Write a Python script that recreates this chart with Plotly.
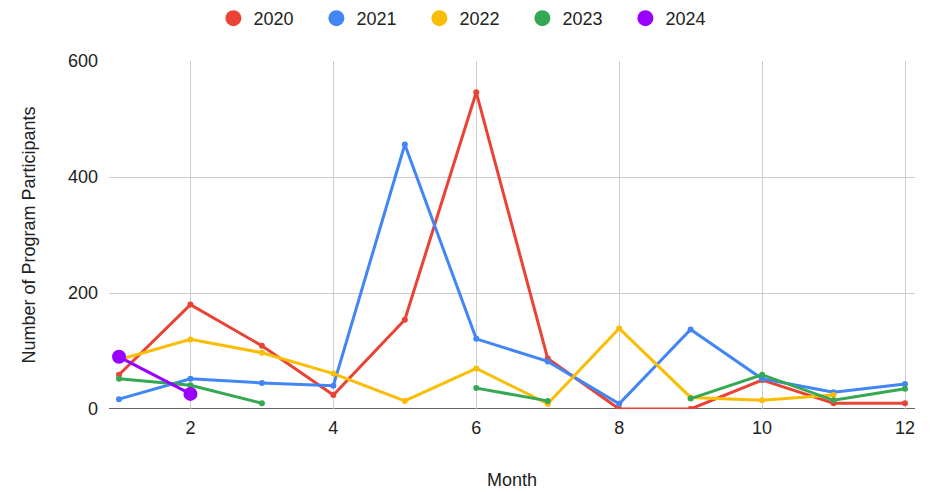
import plotly.graph_objects as go

# Monthly program participants by year (None = no data for that month)
months = [1, 2, 3, 4, 5, 6, 7, 8, 9, 10, 11, 12]
y2020 = [59, 180, 109, 24, 154, 546, 87, 0, 0, 50, 10, 10]
y2021 = [17, 52, 45, 40, 456, 121, 82, 9, 137, 52, 29, 43]
y2022 = [85, 120, 97, 61, 14, 70, 9, 139, 20, 15, 24, None]
y2023 = [52, 41, 10, None, None, 36, 14, None, 18, 59, 15, 35]
y2024 = [90, 26, None, None, None, None, None, None, None, None, None, None]

series = [
    ("2020", y2020, "#EA4335", 6),
    ("2021", y2021, "#4285F4", 6),
    ("2022", y2022, "#FBBC04", 6),
    ("2023", y2023, "#34A853", 6),
    ("2024", y2024, "#9900FF", 14),
]

fig = go.Figure()
for name, vals, color, msize in series:
    fig.add_trace(go.Scatter(
        x=months, y=vals, name=name, mode="lines+markers",
        line=dict(color=color, width=3),
        marker=dict(color=color, size=msize),
        connectgaps=False, showlegend=False,
    ))
# Legend entries drawn as plain circles
for name, vals, color, _ in series:
    fig.add_trace(go.Scatter(
        x=[None], y=[None], name=name, mode="markers",
        marker=dict(color=color, size=19), showlegend=True,
    ))

font = "Arial, Liberation Sans, sans-serif"
fig.update_layout(
    width=936, height=492,
    margin=dict(l=109, r=21, t=61, b=83),
    paper_bgcolor="white", plot_bgcolor="white",
    font=dict(family=font, size=18, color="#222222"),
    legend=dict(orientation="h", x=0.449, xanchor="center", y=1.0,
                yanchor="top", yref="container", font=dict(size=18),
                entrywidth=58, itemwidth=30),
    xaxis=dict(
        range=[0.86, 12.14], tickvals=[2, 4, 6, 8, 10, 12],
        showgrid=True, gridcolor="#cccccc", gridwidth=1.3,
        showline=False, zeroline=False, automargin=False,
        title=dict(text="Month", font=dict(size=18), standoff=36),
        ticks="", tickfont=dict(size=18), ticklabelstandoff=6,
    ),
    yaxis=dict(
        range=[0, 600], tickvals=[0, 200, 400, 600],
        showgrid=True, gridcolor="#cccccc", gridwidth=1.3,
        zeroline=False, showline=False, automargin=False,
        title=dict(text="Number of Program Participants", font=dict(size=18), standoff=27),
        ticks="", tickfont=dict(size=18), ticklabelstandoff=10,
    ),
    shapes=[dict(type="line", xref="paper", yref="y", x0=0, x1=1, y0=0, y1=0,
                 line=dict(color="#333333", width=1.5), layer="below")],
)

fig.write_html("out.html")
